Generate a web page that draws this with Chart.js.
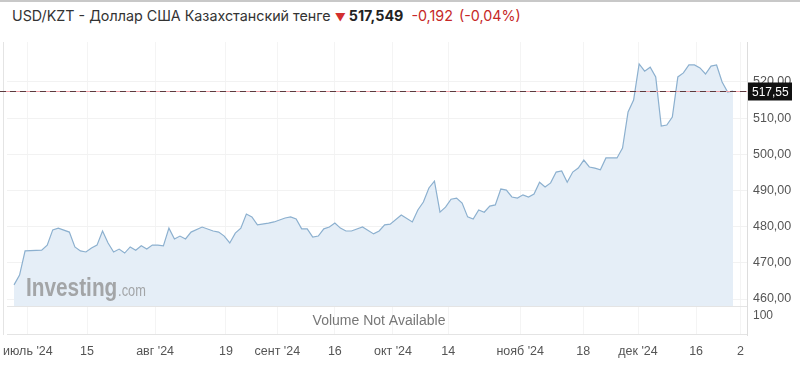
<!DOCTYPE html>
<html>
<head>
<meta charset="utf-8">
<script src="https://cdn.jsdelivr.net/npm/chart.js@4.4.1/dist/chart.umd.min.js"></script>
<style>
  body { margin: 0; background: #fff; width: 800px; height: 373px; overflow: hidden; position: relative; }
  #topline { position: absolute; left: 0; top: 0; width: 800px; height: 2px; background: #c8c8c8; }
  #title { position: absolute; left: 12px; top: 7px; font-family: Inter, "Noto Sans", sans-serif; font-size: 14.3px; color: #333; white-space: nowrap; }
  #title .arrow { color: #d32f2f; font-size: 11px; margin: 0 3px 0 4px; }
  #title .last { font-weight: 700; color: #222; }
  #title .chg { color: #c62828; margin-left: 4px; }
  #wrap { position: absolute; left: 0; top: 0; width: 800px; height: 373px; }
</style>
</head>
<body>
<div id="topline"></div>
<div id="title">USD/KZT - Доллар США Казахстанский тенге<span class="arrow">&#9660;</span><span class="last">517,549</span> <span class="chg">-0,192</span> <span class="chg" style="margin-left:2px">(-0,04%)</span></div>
<div id="wrap"><canvas id="canvas1" width="800" height="373"></canvas></div>
<script>
// trading day number (from 27 Jun 2024) and closing rate
let days = [0, 1, 2, 5, 6, 7, 8, 10, 11, 12, 13, 14, 15, 16, 17, 18, 19, 20, 21, 22, 23, 24, 25, 26, 27,
  28, 29, 30, 31, 32, 34, 36, 37, 38, 39, 40, 41, 42, 43, 44, 46, 47, 49, 50, 51, 52, 53, 54, 55, 56, 57,
  58, 59, 60, 61, 63, 65, 66, 67, 68, 70, 72, 73, 74, 75, 76, 77, 78, 79, 80, 81, 82, 83, 84, 85, 86, 87,
  88, 89, 90, 91, 92, 93, 94, 95, 96, 97, 98, 99, 100, 101, 102, 103, 104, 105, 106, 107, 109, 110, 111,
  112, 113, 114, 115, 116, 117, 118, 119, 120, 121, 122, 123, 124, 125, 126, 127, 128, 129, 130];
let rates = [463.9, 466.6, 473.3, 473.5, 474.9, 479.1, 479.6, 478.5, 474.4, 473.3, 473.0, 474.1, 474.9, 478.8, 475.5, 473.0, 473.8, 472.7, 474.4, 473.5, 474.7, 473.8, 474.9, 474.9, 474.7,
  479.6, 476.6, 477.4, 476.6, 478.5, 479.9, 478.8, 478.5, 477.4, 475.5, 478.2, 479.6, 483.5, 482.7, 480.5, 481.0, 481.3, 482.4, 482.7, 482.1, 479.4, 479.4, 477.1, 477.4, 479.4, 479.9,
  481.0, 479.6, 478.8, 478.8, 479.9, 478.0, 478.8, 480.5, 480.7, 483.2, 481.3, 484.6, 486.8, 490.7, 492.6, 484.0, 485.4, 487.6, 487.9, 486.5, 482.7, 482.1, 484.6, 484.0, 485.7, 486.0,
  490.4, 490.1, 488.2, 487.9, 488.8, 488.2, 489.0, 492.3, 491.0, 492.1, 495.1, 495.4, 492.3, 495.1, 496.2, 498.4, 496.5, 496.2, 495.7, 499.0, 499.0, 501.7, 511.7,
  515.0, 525.0, 523.0, 524.1, 521.4, 507.8, 508.1, 510.3, 521.4, 522.5, 524.7, 524.7, 523.9, 522.2, 524.4, 524.7, 520.0, 517.2, 517.5];

let tickDays = [2.5, 13.2, 25.5, 38.3, 47.6, 58, 68.5, 78.5, 91.5, 102.9, 112.8, 123.3, 131.3];
let tickLabels = ["июль '24", "15", "авг '24", "19", "сент '24", "16", "окт '24", "14", "нояб '24", "18", "дек '24", "16", "2"];
let priceTicks = [460, 470, 480, 490, 500, 510, 520];
let lastPrice = 517.55;
let volumeTick = "100";

function fmt(v) { return v.toFixed(2).replace('.', ','); }

let panelBottom = 458.1; // value where the price panel ends and volume panel begins

let extras = {
  id: 'extras',
  beforeDatasetsDraw(chart) {
    let ctx = chart.ctx, a = chart.chartArea, y = chart.scales.y;
    let yb = y.getPixelForValue(panelBottom);
    ctx.save();
    ctx.strokeStyle = '#e4e4e4';
    ctx.lineWidth = 1;
    ctx.beginPath();
    ctx.moveTo(3.5, a.top); ctx.lineTo(3.5, a.bottom);
    ctx.moveTo(a.left, Math.round(yb) + 0.5); ctx.lineTo(a.right, Math.round(yb) + 0.5);
    ctx.moveTo(a.left, a.bottom - 0.5); ctx.lineTo(a.right, a.bottom - 0.5);
    ctx.stroke();
    ctx.restore();
  },
  afterDatasetsDraw(chart) {
    let ctx = chart.ctx, a = chart.chartArea, y = chart.scales.y;
    let yb = y.getPixelForValue(panelBottom);
    ctx.save();
    // watermark (condensed)
    ctx.save();
    ctx.translate(26, 296);
    ctx.scale(0.8, 1);
    ctx.fillStyle = 'rgba(140,140,140,0.75)';
    ctx.textBaseline = 'alphabetic';
    ctx.font = 'bold 26px "Liberation Sans", Arial, sans-serif';
    ctx.fillText('Investing', 0, 0);
    let w = ctx.measureText('Investing').width;
    ctx.font = '16px "Liberation Sans", Arial, sans-serif';
    ctx.fillText('.com', w + 1, 0);
    ctx.restore();
    // volume panel text
    ctx.fillStyle = '#777';
    ctx.font = '14px "Liberation Sans", Arial, sans-serif';
    ctx.textAlign = 'center';
    ctx.textBaseline = 'middle';
    ctx.fillText('Volume Not Available', (a.left + a.right) / 2 + 2, (yb + a.bottom) / 2 + 1);
    ctx.textAlign = 'left';
    ctx.fillStyle = '#555';
    ctx.font = '12px "Liberation Sans", Arial, sans-serif';
    ctx.fillText(volumeTick, a.right + 6, yb + 10);
    // last price line
    let py = Math.round(y.getPixelForValue(lastPrice)) + 0.5;
    ctx.strokeStyle = '#f0a0a8';
    ctx.lineWidth = 1;
    ctx.beginPath(); ctx.moveTo(0, py); ctx.lineTo(a.right, py); ctx.stroke();
    ctx.strokeStyle = '#5a3a3e';
    ctx.setLineDash([6, 4]);
    ctx.beginPath(); ctx.moveTo(0, py); ctx.lineTo(a.right, py); ctx.stroke();
    ctx.setLineDash([]);
    // last price box
    ctx.fillStyle = '#111';
    ctx.fillRect(a.right + 1, py - 9, 44, 18);
    ctx.fillStyle = '#fff';
    ctx.font = '12px "Liberation Sans", Arial, sans-serif';
    ctx.textBaseline = 'middle';
    ctx.fillText(fmt(lastPrice), a.right + 5, py + 1);
    ctx.restore();
  }
};

let myChart = document.getElementById('canvas1').getContext('2d');
let rateChart = new Chart(myChart, {
  type: 'line',
  data: {
    datasets: [{
      data: days.map((d, i) => ({ x: d, y: rates[i] })),
      borderColor: '#8cb0cf',
      borderWidth: 1.2,
      backgroundColor: '#e5eef7',
      fill: { value: panelBottom },
      pointRadius: 0,
      tension: 0
    }]
  },
  options: {
    responsive: false,
    animation: false,
    layout: { padding: { left: 7, top: 42, right: 0, bottom: 0 } },
    plugins: { legend: { display: false }, tooltip: { enabled: false } },
    scales: {
      x: {
        type: 'linear',
        min: -1.27,
        max: 132.5,
        afterBuildTicks: s => { s.ticks = tickDays.map(v => ({ value: v })); },
        afterFit: s => { s.height = 38; s.paddingLeft = 0; s.paddingRight = 0; },
        grid: { color: '#f4f4f4', drawTicks: false },
        border: { display: false },
        ticks: {
          autoSkip: false,
          maxRotation: 0,
          padding: 9,
          color: '#555',
          font: { family: '"Liberation Sans", Arial', size: 12.5 },
          callback: (v, i) => tickLabels[i]
        }
      },
      y: {
        position: 'right',
        min: 450.05,
        max: 531.05,
        afterBuildTicks: s => { s.ticks = priceTicks.map(v => ({ value: v })); },
        afterFit: s => { s.width = 53; s.paddingTop = 0; s.paddingBottom = 0; },
        grid: { color: '#f2f2f2', drawTicks: false },
        border: { display: true, color: '#dddddd' },
        ticks: {
          padding: 6,
          color: '#555',
          font: { family: '"Liberation Sans", Arial', size: 12.5 },
          callback: v => fmt(v)
        }
      }
    }
  },
  plugins: [extras]
});
</script>
</body>
</html>
